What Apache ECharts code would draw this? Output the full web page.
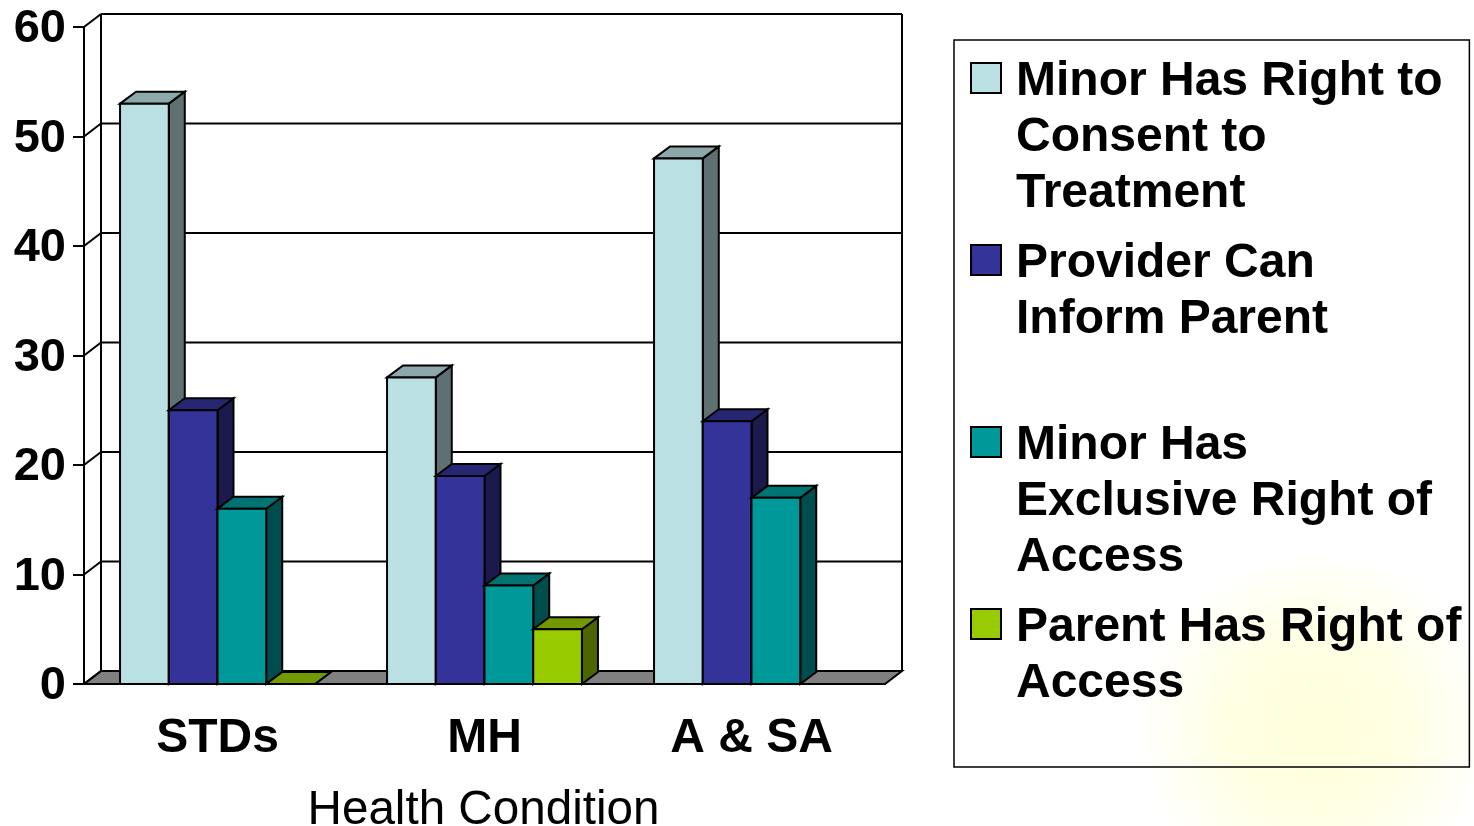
<!DOCTYPE html>
<html>
<head>
<meta charset="utf-8">
<style>html,body{margin:0;padding:0;background:#fff}#c{width:1474px;height:826px}</style>
<script src="https://cdn.jsdelivr.net/npm/echarts@6/dist/echarts.min.js"></script>
</head>
<body>
<div id="c"></div>
<script>
const categories = ['STDs', 'MH', 'A & SA'];
const yTicks = [0, 10, 20, 30, 40, 50, 60];
const consentValues = [53, 28, 48];
const informValues = [25, 19, 24];
const exclusiveValues = [16, 9, 17];
const parentValues = [0, 5, null];
const seriesNames = [
  'Minor Has Right to\nConsent to\nTreatment',
  'Provider Can\nInform Parent\n ',
  'Minor Has\nExclusive Right of\nAccess',
  'Parent Has Right of\nAccess\n '
];
const seriesColors = [[187, 224, 227], [51, 51, 153], [0, 153, 153], [153, 204, 0]];
const allValues = [consentValues, informValues, exclusiveValues, parentValues];

const FONT = '"Liberation Sans", Arial, sans-serif';
const DX = 17, DY = -13, BDX = 16, BDY = -12;
const shade = (c, k) => `rgb(${c.map(v => Math.round(v * k)).join(',')})`;
const LINE = { stroke: '#000', lineWidth: 2, fill: null };

function renderWall(params, api) {
  const v = api.value(0);
  const cs = params.coordSys;
  const y = api.coord([0, v])[1];
  const x0 = cs.x, x1 = cs.x + cs.width;
  const kids = [];
  if (v === 0) {
    kids.push({ type: 'polygon', shape: { points: [[x0, y], [x1, y], [x1 + DX, y + DY], [x0 + DX, y + DY]] },
      style: { fill: '#808080', stroke: '#000', lineWidth: 2 } });
    const top = api.coord([0, yTicks[yTicks.length - 1]])[1] + DY;
    kids.push({ type: 'line', shape: { x1: x0 + DX, y1: top, x2: x0 + DX, y2: y + DY }, style: LINE });
    kids.push({ type: 'line', shape: { x1: x1 + DX, y1: top, x2: x1 + DX, y2: y + DY }, style: LINE });
  }
  kids.push({ type: 'line', shape: { x1: x0, y1: y, x2: x0 + DX, y2: y + DY }, style: LINE });
  kids.push({ type: 'line', shape: { x1: x0 + DX, y1: y + DY, x2: x1 + DX, y2: y + DY }, style: LINE });
  return { type: 'group', children: kids };
}

function barRenderer(si) {
  const col = seriesColors[si];
  return function (params, api) {
    const raw = api.value(1);
    if (raw === null || raw === undefined || isNaN(raw)) return null;
    const band = api.size([1, 0])[0];
    const bw = band * 0.1825;
    const c = api.coord([api.value(0), raw]);
    const y0 = api.coord([api.value(0), 0])[1];
    const x = c[0] - bw * 2 + si * bw, xr = x + bw, yt = c[1];
    const S = { stroke: '#000', lineWidth: 2, lineJoin: 'miter' };
    return { type: 'group', children: [
      { type: 'polygon', shape: { points: [[xr, yt], [xr + BDX, yt + BDY], [xr + BDX, y0 + BDY], [xr, y0]] },
        style: Object.assign({ fill: shade(col, 0.5) }, S) },
      { type: 'polygon', shape: { points: [[x, yt], [x + BDX, yt + BDY], [xr + BDX, yt + BDY], [xr, yt]] },
        style: Object.assign({ fill: shade(col, 0.75) }, S) },
      { type: 'rect', shape: { x: x, y: yt, width: bw, height: y0 - yt },
        style: Object.assign({ fill: shade(col, 1) }, S) }
    ] };
  };
}

const chart = echarts.init(document.getElementById('c'), null, { renderer: 'canvas' });
chart.setOption({
  animation: false,
  backgroundColor: '#fff',
  graphic: [{
    type: 'circle', z: -1, silent: true,
    shape: { cx: 1315, cy: 728, r: 178 },
    style: { fill: { type: 'radial', x: 0.5, y: 0.5, r: 0.5, colorStops: [
      { offset: 0, color: '#FFFFDC' }, { offset: 0.5, color: '#FFFFE4' }, { offset: 1, color: '#FFFFFF' }] } }
  }],
  grid: { left: 84, top: 27, width: 801, height: 657, outerBoundsMode: 'none' },
  legend: {
    orient: 'vertical', left: 954, top: 40, selectedMode: false,
    data: seriesNames,
    padding: [14, 8, -1, 16],
    itemGap: 14, itemWidth: 40, itemHeight: 168,
    icon: 'path://M0 18H30V48H0ZM40 168L40 168',
    itemStyle: { borderColor: '#000', borderWidth: 2 },
    borderColor: '#000', borderWidth: 1.5,
    textStyle: { fontFamily: FONT, fontWeight: 'bold', fontSize: 48, lineHeight: 56, color: '#000' }
  },
  xAxis: {
    type: 'category', data: categories,
    name: 'Health Condition', nameLocation: 'middle', nameGap: 103,
    nameTextStyle: { fontFamily: FONT, fontSize: 47.6, color: '#000', padding: [0, 2, 0, 0] },
    axisLine: { lineStyle: { color: '#000', width: 2 } },
    axisTick: { length: 11, lineStyle: { color: '#000', width: 2 } },
    axisLabel: { fontFamily: FONT, fontWeight: 'bold', fontSize: 48, color: '#000', margin: 31 }
  },
  yAxis: {
    type: 'value', min: 0, max: 60, interval: 10,
    axisLine: { show: true, lineStyle: { color: '#000', width: 2 } },
    axisTick: { show: true, length: 11, lineStyle: { color: '#000', width: 2 } },
    axisLabel: {
      margin: 18, formatter: '{a|{value}}',
      rich: { a: { fontFamily: FONT, fontWeight: 'bold', fontSize: 47, color: '#000', padding: [5, 0, 0, 0] } }
    },
    splitLine: { show: false }
  },
  series: [
    { type: 'custom', name: 'walls', silent: true, clip: false, z: 1,
      data: yTicks.map(v => [v]), encode: { y: 0 }, renderItem: renderWall }
  ].concat(seriesNames.map((name, si) => ({
    type: 'custom', name: name, clip: false, z: 2 + si,
    itemStyle: { color: shade(seriesColors[si], 1) },
    encode: { x: 0, y: 1 },
    data: allValues[si].map((v, i) => [i, v]),
    renderItem: barRenderer(si)
  })))
});
</script>
</body>
</html>
